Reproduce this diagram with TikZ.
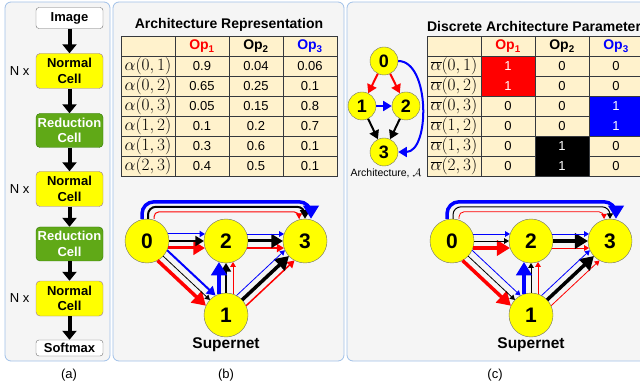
\documentclass[tikz,border=0pt]{standalone}
\usepackage{fontspec}
\setmainfont{Liberation Sans}
\usetikzlibrary{arrows.meta,calc}

\begin{document}
\begin{tikzpicture}[x=1pt,y=-1pt]
  % Colores
  \definecolor{panelfill}{RGB}{245,245,245}
  \definecolor{paneledge}{RGB}{160,192,232}
  \definecolor{cellcream}{RGB}{255,242,204}
  \definecolor{tableedge}{RGB}{54,57,61}
  \definecolor{cellyellow}{RGB}{255,255,0}
  \definecolor{yellowedge}{RGB}{150,115,166}
  \definecolor{redgreen}{RGB}{96,169,23}
  \definecolor{greenedge}{RGB}{45,118,0}
  \definecolor{opred}{RGB}{255,0,0}
  \definecolor{opblue}{RGB}{0,0,255}
  \definecolor{nodeedge}{RGB}{110,110,110}

  % Estilos
  \tikzset{
    panel/.style={fill=panelfill, draw=paneledge, line width=0.8pt, rounded corners=6pt},
    iobox/.style={fill=white, draw=nodeedge, rounded corners=3pt, minimum width=67pt, minimum height=21pt, inner sep=1pt, font=\fontsize{13}{15}\selectfont\bfseries},
    normcell/.style={fill=cellyellow, draw=yellowedge, rounded corners=4pt, minimum width=67pt, minimum height=35pt, inner sep=1pt, align=center, font=\fontsize{13}{15.5}\selectfont\bfseries},
    redcell/.style={normcell, fill=redgreen, draw=greenedge, text=white, minimum height=34pt},
    flow/.style={line width=4pt, -{Triangle[length=9pt, width=14pt]}},
    plain/.style={font=\fontsize{13}{13}\selectfont},
    tabtitle/.style={font=\fontsize{14}{14}\selectfont\bfseries},
    cell/.style={fill=cellcream, draw=tableedge, line width=0.8pt, minimum width=54pt, minimum height=20pt, inner sep=0pt, font=\fontsize{13}{13}\selectfont},
    hdr/.style={cell, font=\fontsize{14}{14}\selectfont\bfseries},
    rowlbl/.style={cell, font=\fontsize{17}{17}\selectfont},
    block/.style={cell, minimum height=40pt, text=white, align=center, font=\fontsize{13}{20}\selectfont},
    supnode/.style={circle, fill=cellyellow, draw=nodeedge, minimum size=44pt, inner sep=0pt, font=\fontsize{21}{21}\selectfont\bfseries},
    mininode/.style={supnode, minimum size=28pt, font=\fontsize{18}{18}\selectfont\bfseries},
    supcap/.style={font=\fontsize{15.5}{15.5}\selectfont\bfseries},
    edge/.style={-{Triangle}, shorten <=21pt, shorten >=21pt},
    arcedge/.style={-{Triangle}},
    miniedge/.style={line width=2pt, -{Triangle}}
  }

  \useasboundingbox (0,0) rectangle (640,390);
  \clip (0,0) rectangle (640,390);

  % Paneles
  \draw[panel] (5,2) rectangle (110,361);
  \draw[panel] (113,2) rectangle (344,361);
  \draw[panel] (347,2) rectangle (660,361);

  % (a) red de celdas
  \node[iobox] (img) at (69.5,18) {Image};
  \node[normcell] (n1) at (69.5,71) {Normal\\Cell};
  \node[redcell] (r1) at (69.5,130.5) {Reduction\\Cell};
  \node[normcell] (n2) at (69.5,189) {Normal\\Cell};
  \node[redcell] (r2) at (69.5,244) {Reduction\\Cell};
  \node[normcell] (n3) at (69.5,298.5) {Normal\\Cell};
  \node[iobox, minimum height=16pt] (soft) at (69.5,348) {Softmax};
  \foreach \u/\v in {img/n1, n1/r1, r1/n2, n2/r2, r2/n3, n3/soft}
    \draw[flow] (\u) -- (\v);
  \foreach \v in {n1, n2, n3}
    \node[plain, anchor=east] (nx-\v) at ([xshift=-3pt]\v.west) {N x};

  % (b) tabla de pesos
  \node[tabtitle] (ttlb) at (229,25) {Architecture Representation};
  \node[hdr] (bh0) at (148,46.5) {};
  \node[hdr, text=opred] (bh1) at (202,46.5) {Op\textsubscript{1}};
  \node[hdr] (bh2) at (256,46.5) {Op\textsubscript{2}};
  \node[hdr, text=opblue] (bh3) at (310,46.5) {Op\textsubscript{3}};
  \foreach \i/\j/\p/\q/\s [count=\k] in {0/1/0.9/0.04/0.06, 0/2/0.65/0.25/0.1, 0/3/0.05/0.15/0.8,
                                        1/2/0.1/0.2/0.7, 1/3/0.3/0.6/0.1, 2/3/0.4/0.5/0.1} {
    \node[rowlbl] (ba\k) at (148,46.5+20*\k) {$\alpha(\i,\j)$};
    \node[cell] (bp\k) at (202,46.5+20*\k) {\p};
    \node[cell] (bq\k) at (256,46.5+20*\k) {\q};
    \node[cell] (bs\k) at (310,46.5+20*\k) {\s};
  }

  % (c) arquitectura discreta
  \node[mininode] (m0) at (384,61) {0};
  \node[mininode] (m1) at (362,106) {1};
  \node[mininode] (m2) at (406,106) {2};
  \node[mininode] (m3) at (384,152) {3};
  \draw[miniedge, opred] (m0) -- (m1);
  \draw[miniedge, opred] (m0) -- (m2);
  \draw[miniedge, opblue] (m1) -- (m2);
  \draw[miniedge] (m1) -- (m3);
  \draw[miniedge] (m2) -- (m3);
  \draw[miniedge, opblue] (m0.east) to[out=0, in=0, looseness=0.9] (m3.east);
  \node[font=\fontsize{10.5}{10.5}\selectfont] (arch) at (386,173) {Architecture, $\mathcal{A}$};

  \node[tabtitle] (ttlc) at (534,26) {Discrete Architecture Parameter};
  \node[hdr] (ch0) at (454,46.5) {};
  \node[hdr, text=opred] (ch1) at (508,46.5) {Op\textsubscript{1}};
  \node[hdr] (ch2) at (562,46.5) {Op\textsubscript{2}};
  \node[hdr, text=opblue] (ch3) at (616,46.5) {Op\textsubscript{3}};
  \foreach \i/\j/\p/\q/\s [count=\k] in {0/1//0/0, 0/2//0/0, 0/3/0/0/, 1/2/0/0/, 1/3/0//0, 2/3/0//0} {
    \node[rowlbl] (ca\k) at (454,46.5+20*\k) {$\overline{\alpha}(\i,\j)$};
    \node[cell] (cp\k) at (508,46.5+20*\k) {\p};
    \node[cell] (cq\k) at (562,46.5+20*\k) {\q};
    \node[cell] (cs\k) at (616,46.5+20*\k) {\s};
  }
  \node[block, fill=opred] (redblk) at (508,76.5) {1\\1};
  \node[block, fill=opblue] (blueblk) at (616,116.5) {1\\1};
  \node[block, fill=black] (blackblk) at (562,156.5) {1\\1};

  % Supernets
  \foreach \s/\x in {b/147, c/452} {
    \node[supnode] (\s0) at (\x,241) {0};
    \node[supnode] (\s2) at (\x+79,241) {2};
    \node[supnode] (\s3) at (\x+158,241) {3};
    \node[supnode] (\s1) at (\x+79,315) {1};
    \node[supcap] (\s cap) at (\x+79,345) {Supernet};
  }
  \foreach \a/\b/\wred/\wblk/\wblu in {b0/b1/3.5/0.8/2, b0/b2/3/2/1, b1/b2/0.8/2/3.5, b1/b3/1.5/3.5/0.8, b2/b3/1.5/3/0.8,
                                       c0/c1/3.5/0.8/0.8, c0/c2/3.5/0.8/0.8, c1/c2/0.8/0.8/3.5, c1/c3/0.8/3.5/0.8, c2/c3/0.8/3.5/0.8} {
    \draw[edge, opred, line width=\wred pt] ($(\a)!7pt!-90:(\b)$) -- ($(\b)!7pt!90:(\a)$);
    \draw[edge, black, line width=\wblk pt, shorten <=22pt, shorten >=22pt] (\a.center) -- (\b.center);
    \draw[edge, opblue, line width=\wblu pt] ($(\a)!7pt!90:(\b)$) -- ($(\b)!7pt!-90:(\a)$);
  }
  \foreach \s/\wred/\wblk/\wblu in {b/1/2/3.5, c/0.8/1/3.5} {
    \draw[arcedge, opred, line width=\wred pt, rounded corners=5pt]
      ([xshift=7pt]\s0.north) |- ([xshift=-6pt, yshift=7pt]\s3.north) -- ([xshift=-6pt]\s3.north);
    \draw[arcedge, black, line width=\wblk pt, rounded corners=8pt]
      ([xshift=1pt]\s0.north) |- ([yshift=12pt]\s3.north) -- (\s3.north);
    \draw[arcedge, opblue, line width=\wblu pt, rounded corners=12pt]
      ([xshift=-5pt]\s0.north) |- ([xshift=6pt, yshift=17pt]\s3.north) -- ([xshift=6pt]\s3.north);
  }

  % Rotulos
  \node[plain] (capa) at (69,375) {(a)};
  \node[plain] (capb) at (226,375) {(b)};
  \node[plain] (capc) at (495,375) {(c)};
\end{tikzpicture}
\end{document}
